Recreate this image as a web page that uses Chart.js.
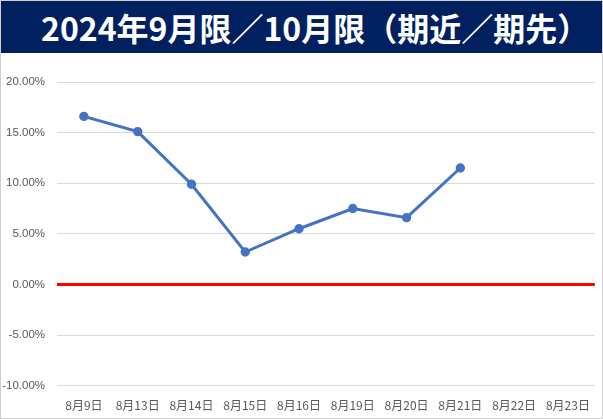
<!DOCTYPE html>
<html>
<head>
<meta charset="utf-8">
<script src="https://cdn.jsdelivr.net/npm/chart.js"></script>
<style>
  body { margin: 0; background: #fff; }
  .box {
    width: 601px; height: 417px; border: 1px solid #d0d0d0;
    position: relative; overflow: hidden;
  }
  .title {
    height: 52px; background: #002060; color: #fff;
    font: bold 32px "Noto Sans CJK JP", sans-serif;
    line-height: 52px; padding-left: 40px; white-space: nowrap;
  }
  .wrap { width: 600px; height: 365px; }
</style>
</head>
<body>
<div class="box">
  <div class="title">2024年9月限／10月限（期近／期先）</div>
  <div class="wrap"><canvas id="c"></canvas></div>
</div>
<script>
const labels = ["8月9日", "8月13日", "8月14日", "8月15日", "8月16日", "8月19日", "8月20日", "8月21日", "8月22日", "8月23日"];
const spread = [16.6, 15.1, 9.9, 3.2, 5.5, 7.5, 6.6, 11.5, null, null];

const yMin = -10, yMax = 20, yStep = 5;

new Chart(document.getElementById("c"), {
  type: "line",
  data: {
    labels,
    datasets: [{
      data: spread,
      borderColor: "#4472C4",
      backgroundColor: "#4472C4",
      borderWidth: 3,
      pointRadius: 3.2,
      pointHoverRadius: 3.2,
      tension: 0
    }]
  },
  options: {
    responsive: true,
    maintainAspectRatio: false,
    animation: false,
    layout: { padding: { top: 29, right: 3, bottom: 0, left: 0 } },
    plugins: { legend: { display: false }, tooltip: { enabled: false } },
    scales: {
      x: {
        offset: true,
        grid: { display: false },
        border: { display: false },
        ticks: {
          color: "#595959",
          font: { family: "Noto Sans CJK JP", size: 12 },
          maxRotation: 0, autoSkip: false, padding: 5
        }
      },
      y: {
        min: yMin, max: yMax,
        afterFit: s => { s.width = 56; },
        border: { display: false },
        grid: {
          color: ctx => ctx.tick && ctx.tick.value === 0 ? "#FF0000" : "#D9D9D9",
          lineWidth: ctx => ctx.tick && ctx.tick.value === 0 ? 3 : 1,
          drawTicks: false
        },
        ticks: {
          stepSize: yStep,
          color: "#595959",
          font: { family: "Liberation Sans", size: 11.5 },
          padding: 12,
          callback: v => v.toFixed(2) + "%"
        }
      }
    }
  }
});
</script>
</body>
</html>
